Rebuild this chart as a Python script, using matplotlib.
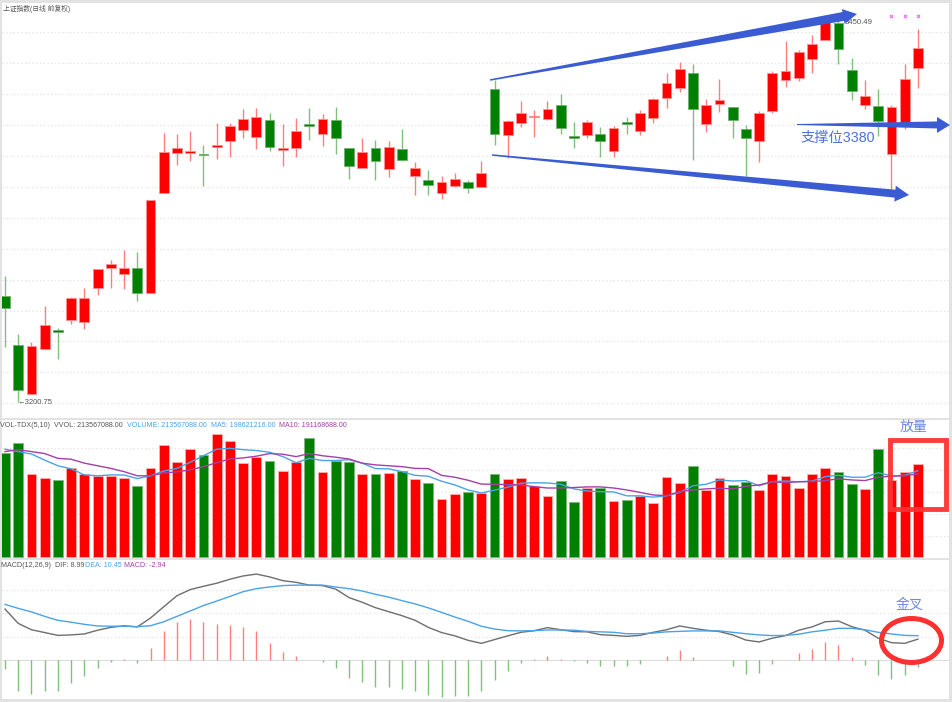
#!/usr/bin/env python3

import matplotlib

matplotlib.use("Agg")
import matplotlib.pyplot as plt
from matplotlib.patches import Ellipse, Polygon, Rectangle
from numpy import arange, array, hypot

plt.rcParams["font.family"] = ["Liberation Sans", "Noto Sans CJK SC", "DejaVu Sans"]

# daily candles
opens = [
    3269.4, 3237.5, 3205.8, 3235.1, 3247.2, 3253.9, 3252.8, 3274.4, 3287.7, 3283.9,
    3287.3, 3271.6, 3336.3, 3361.8, 3361.8, 3361.3, 3366.0, 3369.5, 3376.8, 3372.5,
    3383.5, 3364.1, 3365.0, 3380.9, 3374.2, 3383.1, 3365.0, 3352.2, 3365.4, 3351.8,
    3364.3, 3346.9, 3344.3, 3336.1, 3340.6, 3343.2, 3339.9, 3403.2, 3373.4, 3381.2,
    3385.0, 3383.9, 3392.8, 3372.7, 3373.4, 3374.2, 3363.0, 3382.0, 3376.4, 3384.6,
    3397.3, 3404.2, 3413.5, 3380.7, 3393.8, 3391.5, 3377.3, 3369.5, 3389.1, 3409.2,
    3410.7, 3422.8, 3435.1, 3446.3, 3415.8, 3393.0, 3392.4, 3361.1, 3380.1, 3416.7,
]
highs = [
    3282.2, 3244.8, 3239.5, 3263.0, 3248.5, 3268.6, 3274.8, 3286.7, 3292.9, 3299.2,
    3297.9, 3331.6, 3374.7, 3374.2, 3376.2, 3366.9, 3381.5, 3381.2, 3390.4, 3391.1,
    3387.6, 3380.7, 3384.6, 3391.1, 3387.0, 3391.5, 3365.0, 3371.5, 3370.4, 3369.9,
    3377.5, 3356.1, 3350.8, 3346.9, 3349.2, 3344.3, 3356.6, 3409.2, 3383.3, 3395.4,
    3389.8, 3395.4, 3400.1, 3382.0, 3383.1, 3378.8, 3379.6, 3385.2, 3389.8, 3397.5,
    3413.9, 3420.8, 3419.5, 3396.9, 3410.0, 3391.5, 3380.1, 3388.9, 3415.2, 3434.2,
    3428.4, 3438.3, 3448.0, 3450.49, 3423.2, 3409.4, 3403.2, 3392.8, 3419.5, 3442.0,
]
lows = [
    3236.4, 3200.75, 3205.8, 3235.1, 3228.9, 3251.3, 3247.9, 3270.3, 3274.8, 3274.1,
    3266.0, 3271.6, 3336.3, 3354.4, 3356.8, 3340.6, 3358.3, 3359.4, 3371.5, 3364.5,
    3363.0, 3353.3, 3359.4, 3370.4, 3366.5, 3361.1, 3344.9, 3352.2, 3344.5, 3346.4,
    3356.8, 3334.6, 3334.6, 3332.2, 3339.9, 3336.1, 3339.9, 3366.9, 3358.7, 3378.8,
    3372.3, 3383.1, 3374.2, 3365.4, 3371.8, 3359.6, 3359.6, 3374.2, 3373.8, 3381.5,
    3391.1, 3401.6, 3357.2, 3375.7, 3388.7, 3371.8, 3347.1, 3356.1, 3387.6, 3404.6,
    3408.7, 3413.9, 3435.1, 3419.5, 3396.2, 3390.6, 3372.9, 3338.0, 3377.3, 3404.2,
]
closes = [
    3261.7, 3208.4, 3237.1, 3250.7, 3245.9, 3267.9, 3268.3, 3286.7, 3289.9, 3287.3,
    3271.6, 3331.3, 3362.4, 3365.0, 3363.4, 3360.5, 3367.1, 3379.2, 3383.9, 3385.0,
    3365.8, 3365.0, 3376.2, 3379.2, 3383.9, 3371.5, 3353.3, 3362.4, 3356.8, 3365.8,
    3357.6, 3352.2, 3341.4, 3343.2, 3344.9, 3339.5, 3348.8, 3374.2, 3382.5, 3388.0,
    3385.9, 3390.2, 3378.3, 3371.8, 3381.8, 3369.9, 3378.1, 3380.7, 3388.0, 3396.9,
    3407.0, 3416.3, 3390.2, 3392.8, 3396.0, 3383.3, 3371.5, 3388.0, 3413.5, 3415.0,
    3427.5, 3432.5, 3446.7, 3429.0, 3402.3, 3398.6, 3382.6, 3391.9, 3410.0, 3430.1,
]
signal_days = [67, 68, 69]
signal_prices = [3450.8, 3450.8, 3450.8]

# volume in millions
volume = [
    240, 262, 191, 183, 177, 204, 191, 187, 186, 181,
    164, 206, 258, 219.5, 248, 235, 282, 267, 216.5, 231,
    221, 199, 219, 273, 195, 221, 219.5, 191, 191, 193.5,
    199, 180, 170.6, 134, 144.6, 149, 147, 191, 179, 183,
    163, 141, 174.5, 127, 160, 158.5, 129, 131.5, 141, 124,
    184, 170.6, 209, 155, 181, 167, 173.6, 155, 191, 186,
    160, 190, 205, 196.5, 168, 157, 248.6, 177.5, 196.5, 213.6,
]
ma5 = [
    248, 242.5, 237, 223, 210, 203, 189, 187, 189, 189,
    180.5, 187, 198, 204, 218, 233, 248, 250, 247, 245,
    241, 231, 217, 227, 222, 222, 224, 216, 203.5, 203,
    196.5, 188, 186, 174.5, 166, 154.5, 147.6, 154, 161, 170,
    171, 170.6, 167.6, 157, 152, 150.6, 150, 141, 141, 138,
    141, 149, 164, 167.6, 177.5, 175, 176, 164, 173.6, 175,
    173, 175, 185, 188, 183.7, 183.7, 194, 187, 188, 198.6,
]
ma10 = [
    242.5, 247, 242.5, 238, 227, 225, 216, 210, 204, 196.5,
    187, 187, 193.5, 196, 200.5, 208, 217, 225.6, 228, 232,
    238, 236.5, 231, 238, 233, 229.6, 225.6, 216, 212, 210,
    208, 204, 203.5, 188, 183.7, 176.8, 168, 167.6, 166.7, 166,
    162, 159, 159, 160, 161.5, 161.5, 159, 154.5, 149, 143,
    141.5, 150.6, 154.5, 157, 158.5, 157, 163, 166, 173.6, 171,
    173.6, 173.6, 176, 180, 177.5, 176, 183.7, 186, 187, 191.2,
]

dif = [
    21.8, 15.7, 13.0, 11.8, 10.6, 10.8, 11.2, 12.8, 14.0, 14.7,
    14.2, 18.0, 22.8, 27.5, 30.1, 31.5, 32.8, 34.5, 35.9, 36.7,
    35.5, 33.9, 33.2, 32.0, 31.8, 30.3, 26.7, 24.7, 22.4, 20.7,
    19.0, 17.0, 14.0, 11.8, 10.4, 8.5, 7.2, 8.8, 10.4, 11.9,
    12.6, 13.9, 13.0, 12.2, 12.1, 10.9, 10.6, 10.2, 10.6, 11.9,
    13.0, 14.6, 13.6, 12.8, 12.2, 10.8, 8.6, 7.8, 9.4, 10.5,
    12.8, 14.2, 16.4, 16.7, 14.3, 12.8, 9.4, 7.5, 7.2, 8.99,
]
dea = [
    23.8, 22.1, 20.6, 18.7, 17.0, 16.2, 15.3, 14.6, 14.5, 14.5,
    14.3, 14.7, 16.4, 18.7, 21.0, 23.3, 25.2, 27.2, 29.2, 30.5,
    31.2, 31.8, 32.0, 32.0, 32.0, 31.2, 30.5, 29.5, 28.1, 26.9,
    25.4, 24.0, 22.3, 20.4, 18.4, 16.6, 14.5, 13.3, 12.6, 12.5,
    12.6, 12.9, 12.9, 12.8, 12.3, 12.1, 11.9, 11.3, 11.3, 11.6,
    12.1, 12.3, 12.5, 12.5, 12.5, 11.9, 11.3, 10.8, 10.5, 10.6,
    11.1, 12.1, 12.8, 13.6, 13.6, 13.0, 11.9, 11.2, 10.6, 10.45,
]
macd = [
    -3.8, -12.9, -14.3, -13.3, -13.2, -9.6, -6.9, -3.1, -0.7, 0.6,
    -1.0, 5.2, 12.5, 16.4, 17.7, 16.4, 15.5, 15.2, 14.2, 12.3,
    7.4, 3.5, 1.7, 0.3, -0.6, -3.3, -7.7, -9.2, -11.2, -11.2,
    -12.2, -13.2, -14.7, -15.5, -15.2, -15.2, -13.2, -8.6, -4.4, -1.0,
    0.6, 1.7, 0.7, -0.4, -1.0, -2.4, -2.6, -2.4, -1.6, 0.0,
    1.8, 4.3, 1.6, 0.0, 0.0, -2.4, -5.7, -5.4, -1.8, 0.1,
    3.0, 4.8, 7.7, 6.5, 1.6, -2.0, -6.4, -7.9, -6.4, -2.94,
]

WIDTH, HEIGHT = 952, 702
LEFT, RIGHT = 2, 949
RED = "#ff0000"
GREEN = "#008000"
MA5_BLUE = "#4aa3e8"
MA10_PURPLE = "#a53fa8"
ARROW_BLUE = "#3b5bd3"
NOTE_BLUE = "#6a88e6"
BOX_RED = "#ff3030"
GRID_STYLE = dict(color="#e2e2e2", linewidth=0.9, linestyle=(0, (1, 2)))

days = arange(len(opens))
xlim = ((LEFT - 5) / 13.23, (RIGHT - 5) / 13.23)


def add_panel(fig, top, bottom, ylim, gridlines):
    ax = fig.add_axes(
        [LEFT / WIDTH, 1 - bottom / HEIGHT, (RIGHT - LEFT) / WIDTH, (bottom - top) / HEIGHT]
    )
    ax.set_xlim(xlim)
    ax.set_ylim(ylim)
    ax.set_xticks([])
    ax.set_yticks([])
    for spine in ax.spines.values():
        spine.set_visible(False)
    for level in gridlines:
        ax.axhline(level, zorder=0, **GRID_STYLE)
    return ax


def tapered_arrow(ax, start, tip, shaft_start, shaft_end, head_length, head_width):
    """Thin at start, widening to shaft_end, then a triangular head at tip."""
    x0, y0 = start
    x1, y1 = tip
    length = hypot(x1 - x0, y1 - y0)
    ux, uy = (x1 - x0) / length, (y1 - y0) / length
    nx, ny = -uy, ux
    bx, by = x1 - ux * head_length, y1 - uy * head_length
    points = [
        (x0 + nx * shaft_start / 2, y0 + ny * shaft_start / 2),
        (bx + nx * shaft_end / 2, by + ny * shaft_end / 2),
        (bx + nx * head_width / 2, by + ny * head_width / 2),
        (x1, y1),
        (bx - nx * head_width / 2, by - ny * head_width / 2),
        (bx - nx * shaft_end / 2, by - ny * shaft_end / 2),
        (x0 - nx * shaft_start / 2, y0 - ny * shaft_start / 2),
    ]
    ax.add_patch(Polygon(points, closed=True, color=ARROW_BLUE, linewidth=0))


fig = plt.figure(figsize=(WIDTH / 100, HEIGHT / 100), dpi=100, facecolor="#e2e2e2")

# price panel
ax_price = add_panel(fig, 3, 418, (3190.5, 3459), arange(3200, 3441, 20))
open_arr, close_arr = array(opens), array(closes)
is_up = close_arr >= open_arr
candle_colors = [RED if up else GREEN for up in is_up]
edge_colors = ["#ff9090" if up else "#70b070" for up in is_up]
ax_price.vlines(days, lows, highs, colors=candle_colors, linewidth=1.0, alpha=0.5, zorder=2)
ax_price.bar(
    days,
    abs(close_arr - open_arr),
    bottom=[min(o, c) for o, c in zip(opens, closes)],
    width=0.74,
    color=candle_colors,
    edgecolor=edge_colors,
    linewidth=0.6,
    zorder=3,
)
ax_price.scatter(signal_days, signal_prices, marker="x", s=5, color="#ff60ff", linewidth=0.8)
ax_price.text(
    0.98, lows[1], f"←{lows[1]}", fontsize=5.5, color="#555555", va="center", zorder=4
)
ax_price.text(
    63.45, 3446.3, f"{highs[63]}", fontsize=5.6, color="#555555", va="center", zorder=1
)

# volume panel
ax_vol = add_panel(fig, 420, 558, (-1.6, 315), [50, 100, 150, 200, 250])
ax_vol.bar(
    days,
    volume,
    width=0.74,
    color=candle_colors,
    edgecolor=["#ffb0b0" if up else "#80b880" for up in is_up],
    linewidth=0.6,
    zorder=2,
)
ax_vol.plot(days, ma5, color=MA5_BLUE, linewidth=1.0, zorder=3)
ax_vol.plot(days, ma10, color=MA10_PURPLE, linewidth=1.0, zorder=3)

# macd panel
ax_macd = add_panel(fig, 560, 699, (-16.5, 42.7), [10, 20, 30])
ax_macd.axhline(0, color="#dddddd", linewidth=0.8, zorder=0)
ax_macd.vlines(
    days,
    0,
    macd,
    colors=[RED if value > 0 else GREEN for value in macd],
    linewidth=1.0,
    alpha=0.5,
    zorder=2,
)
ax_macd.plot(days, dif, color="#6e6e6e", linewidth=1.0, zorder=3)
ax_macd.plot(days, dea, color=MA5_BLUE, linewidth=1.0, zorder=3)

# everything hand drawn on top of the chart sits in screen pixels
overlay = fig.add_axes([0, 0, 1, 1], facecolor="none")
overlay.set_xlim(0, WIDTH)
overlay.set_ylim(HEIGHT, 0)
overlay.axis("off")

tapered_arrow(overlay, (490, 80), (857, 14), 1.5, 9, 14, 15)
tapered_arrow(overlay, (492, 155), (909, 195), 1.5, 8, 14, 16)
tapered_arrow(overlay, (797, 124.5), (950, 125), 1, 7, 13, 16)

overlay.add_patch(
    Rectangle((890, 440), 55.5, 69, fill=False, edgecolor=BOX_RED, linewidth=3.5, alpha=0.95)
)
overlay.add_patch(
    Ellipse((911.5, 640.5), 60, 44, fill=False, edgecolor=BOX_RED, linewidth=3.6)
)

overlay.text(800, 138, "支撑位3380", fontsize=10.3, color="#4f70da", va="center")
overlay.text(900, 427, "放量", fontsize=10, color=NOTE_BLUE, va="center")
overlay.text(896, 605, "金叉", fontsize=10, color=NOTE_BLUE, va="center")

overlay.text(3, 9, "上证指数(日线 前复权)", fontsize=4.9, color="#555555", va="center")


def header(x, y, label, color):
    overlay.text(x, y, label, fontsize=5.1, color=color, va="center")


header(0, 425.5, "VOL-TDX(5,10)  VVOL: 213567088.00", "#555555")
header(127, 425.5, "VOLUME: 213567088.00", MA5_BLUE)
header(211, 425.5, "MA5: 198621216.00", MA5_BLUE)
header(279, 425.5, "MA10: 191168688.00", MA10_PURPLE)
header(1, 565.5, "MACD(12,26,9)  DIF: 8.99", "#555555")
header(85, 565.5, "DEA: 10.45", MA5_BLUE)
header(124, 565.5, "MACD: -2.94", MA10_PURPLE)

fig.savefig("out.png", dpi=100, facecolor=fig.get_facecolor())
